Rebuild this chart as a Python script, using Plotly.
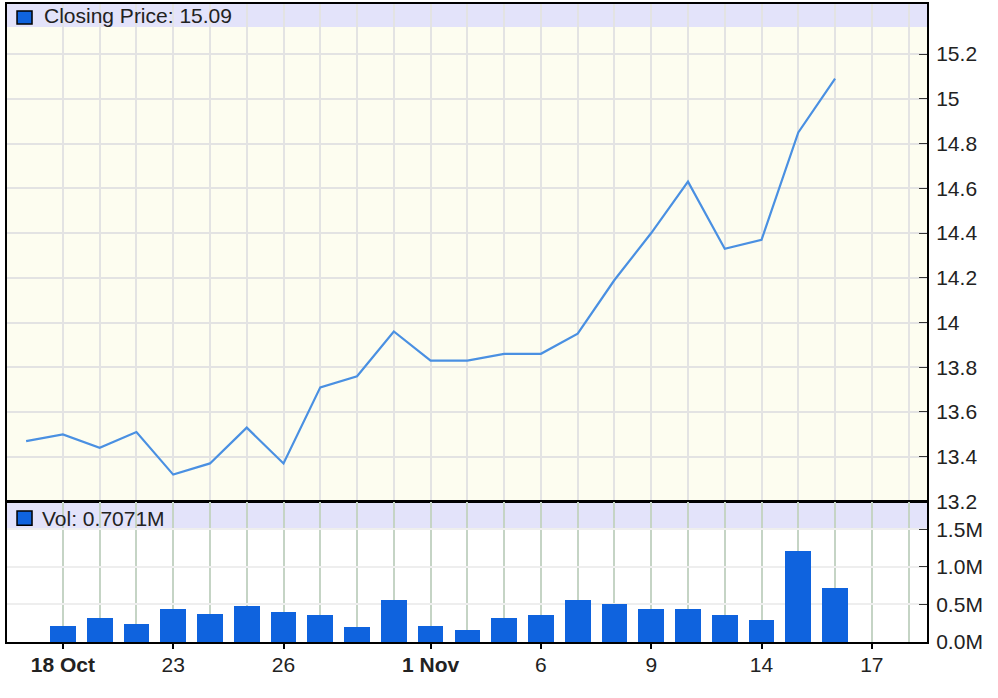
import plotly.graph_objects as go

# ---- data ----
dates = ["2018-10-17", "2018-10-18", "2018-10-19", "2018-10-22", "2018-10-23",
         "2018-10-24", "2018-10-25", "2018-10-26", "2018-10-29", "2018-10-30",
         "2018-10-31", "2018-11-01", "2018-11-02", "2018-11-05", "2018-11-06",
         "2018-11-07", "2018-11-08", "2018-11-09", "2018-11-12", "2018-11-13",
         "2018-11-14", "2018-11-15", "2018-11-16"]
close = [13.47, 13.50, 13.44, 13.51, 13.32, 13.37, 13.53, 13.37, 13.71, 13.76,
         13.96, 13.83, 13.83, 13.86, 13.86, 13.95, 14.19, 14.40, 14.63, 14.33,
         14.37, 14.85, 15.09]
volume_m = [None, 0.21, 0.32, 0.24, 0.43, 0.37, 0.48, 0.40, 0.35, 0.19,
            0.56, 0.21, 0.16, 0.32, 0.35, 0.56, 0.50, 0.43, 0.43, 0.35,
            0.29, 1.20, 0.7071]
x_tick_pos = [1, 4, 7, 11, 14, 17, 20, 23]
x_tick_text = ["<b>18 Oct</b>", "23", "26", "<b>1 Nov</b>", "6", "9", "14", "17"]
grid_pos = list(range(1, 25))
price_ticks = [13.2, 13.4, 13.6, 13.8, 14.0, 14.2, 14.4, 14.6, 14.8, 15.0, 15.2]
price_tick_text = ["13.2", "13.4", "13.6", "13.8", "14", "14.2", "14.4", "14.6", "14.8", "15", "15.2"]
vol_ticks = [0, 0.5, 1.0, 1.5]
vol_tick_text = ["0.0M", "0.5M", "1.0M", "1.5M"]

xi = list(range(len(dates)))
grid_text = [x_tick_text[x_tick_pos.index(g)] if g in x_tick_pos else "" for g in grid_pos]

FONT = "Liberation Sans, Arial, sans-serif"
FS = 21
XR = [-0.52, 24.5]

fig = go.Figure()
fig.add_trace(go.Scatter(x=xi, y=close, mode="lines",
                         line=dict(color="#4a90e2", width=2.2),
                         xaxis="x", yaxis="y", showlegend=False))
fig.add_trace(go.Bar(x=xi, y=volume_m, width=0.7,
                     marker=dict(color="#0f63de", line=dict(width=0)),
                     xaxis="x2", yaxis="y2", showlegend=False))
fig.add_trace(go.Scatter(x=[], y=[], xaxis="x3", yaxis="y2", showlegend=False))

axis_line = dict(showline=True, mirror=True, linecolor="black", linewidth=2, zeroline=False)

fig.update_layout(
    width=998, height=698,
    margin=dict(l=7, r=71, t=2, b=56),
    paper_bgcolor="white", plot_bgcolor="white",
    font=dict(family=FONT, size=FS, color="#222"),
    bargap=0,
    xaxis=dict(domain=[0, 1], anchor="y", range=XR, tickvals=grid_pos,
               showticklabels=False, ticks="", showgrid=True,
               gridcolor="#e3e3e3", gridwidth=1.5, **axis_line),
    yaxis=dict(domain=[0.2203, 1], anchor="x", side="right", range=[13.2, 15.424],
               tickvals=price_ticks, ticktext=price_tick_text, ticks="inside",
               ticklen=8, tickcolor="#333", showgrid=True, gridcolor="#e3e3e3",
               gridwidth=1.5, ticklabelstandoff=3, **axis_line),
    xaxis2=dict(domain=[0, 1], anchor="y2", range=XR, tickvals=grid_pos,
                ticktext=grid_text, ticks="", showgrid=True, gridcolor="#c5d4c5",
                gridwidth=1.5, ticklabelstandoff=3, **axis_line),
    xaxis3=dict(overlaying="x2", anchor="y2", range=XR, tickvals=x_tick_pos,
                ticks="outside", ticklen=6, tickcolor="black", tickwidth=2,
                showticklabels=False, showgrid=False, showline=False, zeroline=False),
    yaxis2=dict(domain=[0, 0.21875], anchor="x2", side="right", range=[0, 1.8585],
                tickvals=vol_ticks, ticktext=vol_tick_text, ticks="inside",
                ticklen=8, tickcolor="#333", showgrid=True, gridcolor="#eeeeee",
                gridwidth=1.5, ticklabelstandoff=3, **axis_line),
    shapes=[
        dict(type="rect", xref="x domain", yref="y domain", x0=0, x1=1, y0=0, y1=1,
             fillcolor="#fdfdf0", line=dict(width=0), layer="below"),
        dict(type="rect", xref="x domain", yref="y domain", x0=0, x1=1, y0=0.954, y1=1,
             fillcolor="#e3e3fa", line=dict(width=0), layer="below"),
        dict(type="rect", xref="x2 domain", yref="y2 domain", x0=0, x1=1, y0=0.807, y1=1,
             fillcolor="#e3e3fa", line=dict(width=0), layer="below"),
        dict(type="rect", xref="x domain", yref="y domain", x0=0.0109, x1=0.0272,
             y0=0.960, y1=0.986, fillcolor="#0f63de", line=dict(color="black", width=1.5)),
        dict(type="rect", xref="x2 domain", yref="y2 domain", x0=0.0109, x1=0.0272,
             y0=0.836, y1=0.938, fillcolor="#0f63de", line=dict(color="black", width=1.5)),
    ],
    annotations=[
        dict(text=f"Closing Price: {close[-1]:.2f}", xref="x domain", yref="y domain",
             x=0.038, y=0.976, xanchor="left", yanchor="middle", showarrow=False,
             font=dict(size=FS, color="#222")),
        dict(text=f"Vol: {volume_m[-1]:.4f}M", xref="x2 domain", yref="y2 domain",
             x=0.0359, y=0.886, xanchor="left", yanchor="middle", showarrow=False,
             font=dict(size=FS, color="#222")),
    ],
)

fig.write_html("out.html", config={"displayModeBar": False},
               post_script="document.body.style.margin='0px';")
